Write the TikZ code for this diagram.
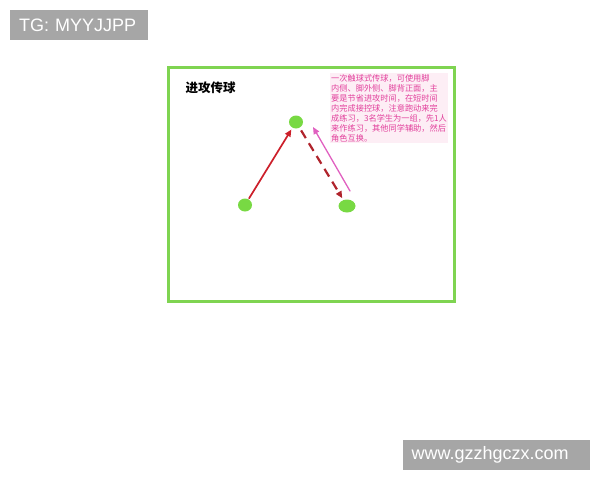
\documentclass[tikz,border=0pt]{standalone}
\usepackage{fontspec}
\setmainfont{Liberation Sans}
\newfontfamily\cjk{Noto Sans CJK SC}
\usetikzlibrary{arrows.meta, shapes.geometric}
\definecolor{fieldgreen}{HTML}{7FD451}
\definecolor{dotgreen}{HTML}{78D943}
\definecolor{passred}{HTML}{CC1F2A}
\definecolor{runred}{HTML}{B0242C}
\definecolor{notepink}{HTML}{E2409C}
\definecolor{backpink}{HTML}{E060C0}
\definecolor{notebg}{HTML}{FDEEF5}
\definecolor{markgray}{HTML}{A6A6A6}
\begin{document}
\begin{tikzpicture}[x=1pt, y=-1pt, line cap=round,
	player/.style={fill=dotgreen, ellipse, minimum width=14pt, minimum height=13pt, inner sep=0pt},
	pass/.style={passred, line width=1.7pt, -{Triangle[length=7pt, width=6pt]}},
	run/.style={runred, line width=2.2pt, line cap=butt, dash pattern=on 9pt off 6pt, -{Triangle[length=7pt, width=6pt]}},
	back/.style={backpink, line width=1.3pt, -{Triangle[length=7pt, width=6pt]}},
	tag/.style={fill=markgray, text=white, font=\fontsize{18}{18}\selectfont, inner sep=0pt, anchor=north west}]
	\useasboundingbox (0,0) rectangle (600,480);

% The field
\draw [fieldgreen, line width=3pt] (168,67) rectangle (454,301);
\node [anchor=west, font=\cjk\bfseries\fontsize{12.5}{12.5}\selectfont] (title) at (182,88) {进攻传球};

% Note
\node [anchor=north west, fill=notebg, inner sep=1pt, text=notepink, align=left,
       font=\cjk\fontsize{8.2}{10}\selectfont] (note) at (330,73)
	{一次触球式传球，可使用脚\\
	 内侧、脚外侧、脚背正面，主\\
	 要是节省进攻时间，在短时间\\
	 内完成接控球，注意跑动来完\\
	 成练习，3名学生为一组，先1人\\
	 来作练习，其他同学辅助，然后\\
	 角色互换。};

% Players
\node [player] (top) at (296,122) {};
\node [player] (left) at (245,205) {};
\node [player, minimum width=17pt, minimum height=13pt] (right) at (347,206) {};

% Passes and runs
\draw [pass, shorten <=1pt, shorten >=2pt] (left) -- (top);
\draw [run, shorten <=3pt, shorten >=2pt] (top) -- (right);
\coordinate (backstart) at (350,191);
\coordinate (backend) at (313,127);
\draw [back] (backstart) -- (backend);

% Marks
\node [tag, minimum width=138pt, minimum height=30pt, text width=130pt] (tg) at (10,10) {\hspace*{5pt}TG: MYYJJPP};
\node [tag, minimum width=187pt, minimum height=30pt, text width=180pt] (site) at (403,440) {\hspace*{5pt}www.gzzhgczx.com};
\end{tikzpicture}
\end{document}
